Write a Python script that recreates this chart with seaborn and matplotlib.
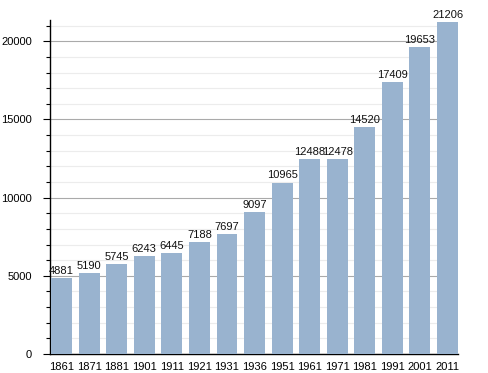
import matplotlib
matplotlib.use("Agg")
import matplotlib.pyplot as plt
from matplotlib.ticker import MultipleLocator
import seaborn as sns
import pandas as pd

years = ["1861", "1871", "1881", "1901", "1911", "1921", "1931", "1936",
         "1951", "1961", "1971", "1981", "1991", "2001", "2011"]
population = [4881, 5190, 5745, 6243, 6445, 7188, 7697, 9097,
              10965, 12488, 12478, 14520, 17409, 19653, 21206]

df = pd.DataFrame({"year": years, "pop": population})

sns.set_style("white")
plt.rcParams['font.family'] = ['Liberation Sans', 'DejaVu Sans']

fig = plt.figure(figsize=(4.88, 3.73), dpi=100)
ax = fig.add_axes([0.1025, 0.051, 0.836, 0.895])

sns.barplot(data=df, x="year", y="pop", color="#99b3cf", width=0.76,
            saturation=1, linewidth=0, ax=ax, zorder=3)

for i, v in enumerate(population):
    ax.text(i, v + 130, str(v), ha="center", va="bottom", fontsize=8,
            color="#111111", zorder=4)

ax.set_ylim(0, 21350)
ax.set_xlim(-0.42, 14.38)
ax.yaxis.set_major_locator(MultipleLocator(5000))
ax.yaxis.set_minor_locator(MultipleLocator(1000))
ax.grid(which="major", axis="y", color="#aaaaaa", linewidth=0.8, zorder=1)
ax.grid(which="minor", axis="y", color="#ececec", linewidth=0.8, zorder=0)
ax.set_axisbelow(True)

for s in ["top", "right"]:
    ax.spines[s].set_visible(False)
ax.spines["left"].set_color("black")
ax.spines["bottom"].set_color("black")
ax.spines["left"].set_linewidth(1.0)
ax.spines["bottom"].set_linewidth(1.0)

ax.tick_params(axis="y", which="major", left=True, length=5, width=0.8,
               labelsize=8, pad=8, colors="black")
ax.tick_params(axis="y", which="minor", left=True, length=3, width=0.8,
               colors="black")
ax.tick_params(axis="x", bottom=False, labelsize=8, pad=2, colors="black")
ax.set_xlabel("")
ax.set_ylabel("")

fig.savefig("out.png", dpi=100)
